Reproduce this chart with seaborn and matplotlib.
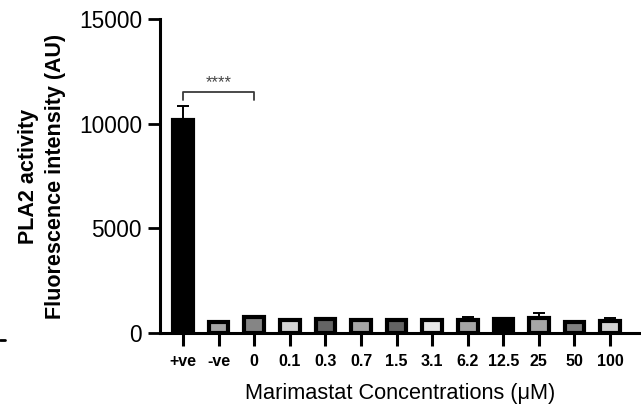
import matplotlib
matplotlib.use("Agg")
import matplotlib.pyplot as plt
import seaborn as sns
import pandas as pd
import numpy as np
from matplotlib.lines import Line2D

# data
labels = ['+ve', '-ve', '0', '0.1', '0.3', '0.7', '1.5', '3.1', '6.2', '12.5', '25', '50', '100']
means = [10200, 540, 760, 640, 660, 620, 640, 620, 620, 650, 730, 520, 580]
sem = [650, 30, 40, 30, 40, 30, 30, 40, 150, 40, 250, 30, 150]
fills = ['#000000', '#a6a6a6', '#858585', '#d4d4d4', '#646464', '#a6a6a6', '#646464',
         '#e6e6e6', '#a6a6a6', '#000000', '#a6a6a6', '#808080', '#d4d4d4']

df = pd.DataFrame({'conc': labels, 'activity': means, 'sem': sem})

sns.set_style("ticks")
plt.rcParams['font.family'] = ['Liberation Sans', 'DejaVu Sans']
plt.rcParams['text.color'] = 'black'
plt.rcParams['axes.labelcolor'] = 'black'
plt.rcParams['xtick.color'] = 'black'
plt.rcParams['ytick.color'] = 'black'
plt.rcParams['axes.edgecolor'] = 'black'

fig = plt.figure(figsize=(6.41, 4.12), dpi=100)
ax = fig.add_axes([0.2496, 0.1917, 0.7504, 0.7620])

sns.barplot(data=df, x='conc', y='activity', hue='conc', palette=fills, legend=False,
            width=0.55, edgecolor='black', linewidth=3, saturation=1, errorbar=None, ax=ax)

# one-sided error bars, GraphPad style
ax.errorbar(df['conc'], df['activity'], yerr=[np.zeros(len(sem)), df['sem']],
            fmt='none', ecolor='black', elinewidth=1.4, capsize=4, capthick=1.4, zorder=5)

# significance bracket +ve vs 0
ax.plot([0, 0, 2, 2], [11150, 11500, 11500, 11150], color='#3a3a3a', lw=1.3)
ax.text(1, 11620, '****', ha='center', va='bottom', fontsize=12, color='#444444')

ax.set_ylim(0, 15000)
ax.set_xlim(-0.65, 12.87)
ax.set_yticks([0, 5000, 10000, 15000])
ax.tick_params(axis='y', labelsize=16.3, width=2, length=9, pad=4)
ax.tick_params(axis='x', labelsize=11.5, width=2.2, length=9, pad=6)
for t in ax.get_xticklabels():
    t.set_fontweight('bold')

ax.set_xlabel('Marimastat Concentrations (μM)', fontsize=15.7, labelpad=10)
ax.set_ylabel('PLA2 activity\nFluorescence intensity (AU)', fontsize=15.5, fontweight='bold',
              labelpad=9.5, linespacing=1.35)

sns.despine(ax=ax)
ax.spines['left'].set_linewidth(2.2)
ax.spines['bottom'].set_linewidth(2.2)

fig.add_artist(Line2D([0, 0.008], [0.175, 0.175], color='black', lw=2))

fig.savefig('out.png', dpi=100)
